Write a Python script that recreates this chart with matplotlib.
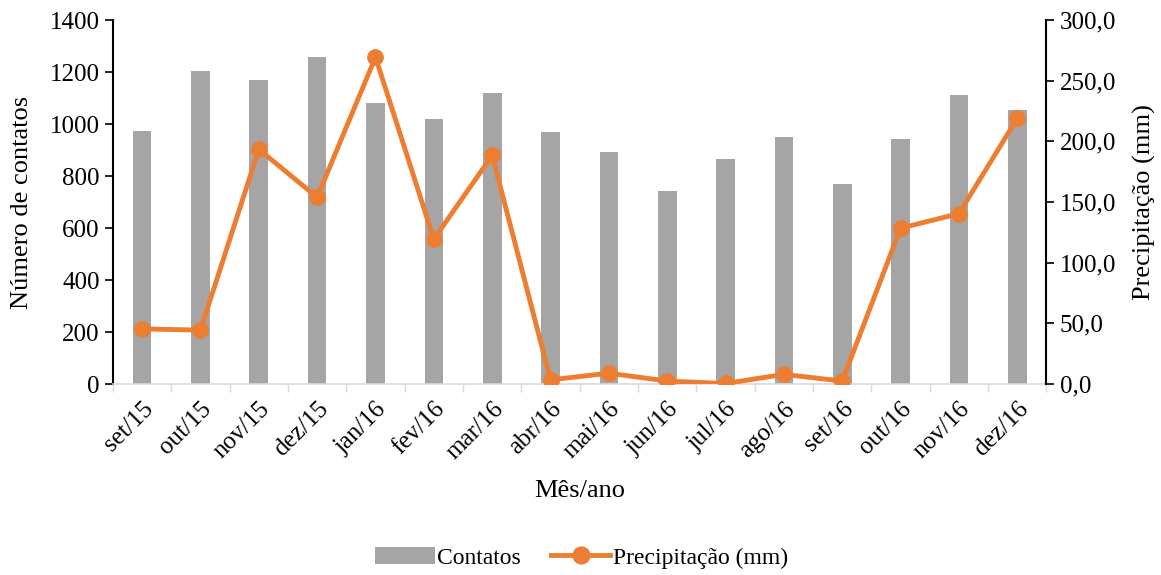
import matplotlib.pyplot as plt
import numpy as np

plt.rcParams['font.family'] = ['Liberation Serif', 'DejaVu Serif']

meses = ['set/15', 'out/15', 'nov/15', 'dez/15', 'jan/16', 'fev/16', 'mar/16', 'abr/16',
         'mai/16', 'jun/16', 'jul/16', 'ago/16', 'set/16', 'out/16', 'nov/16', 'dez/16']
contatos = [972, 1205, 1169, 1258, 1081, 1019, 1119, 969,
            892, 742, 867, 950, 770, 942, 1113, 1054]
precip = [45.5, 44.5, 193.5, 154.0, 269.5, 119.5, 188.5, 3.5,
          9.0, 2.5, 0.5, 8.0, 2.5, 128.5, 140.5, 219.0]

fig = plt.figure(figsize=(11.61, 5.75), dpi=100)
ax = fig.add_axes([0.0973, 0.332, 0.804, 0.633])
x = np.arange(len(meses))

ax.bar(x, contatos, width=0.32, color='#A5A5A5', label='Contatos', zorder=2)
ax.set_ylim(0, 1400)
ax.set_xlim(-0.5, len(meses) - 0.5)
ax.set_yticks(np.arange(0, 1401, 200))
ax.set_ylabel('Número de contatos', fontsize=19, labelpad=12)
ax.set_xlabel('Mês/ano', fontsize=19, labelpad=12)

ax.set_xticks(x)
ax.set_xticklabels(meses, rotation=45, ha='right', rotation_mode='anchor', fontsize=18)
ax.tick_params(axis='x', length=0, pad=10)
ax.set_xticks(np.arange(-0.5, len(meses)), minor=True)
ax.tick_params(axis='x', which='minor', length=6, color='#D9D9D9', width=1)
ax.tick_params(axis='y', labelsize=18, length=6, width=1.2)

ax.spines['top'].set_visible(False)
ax.spines['right'].set_visible(False)
ax.spines['bottom'].set_color('#D9D9D9')
ax.spines['bottom'].set_linewidth(1.2)
ax.spines['left'].set_linewidth(1.5)

ax2 = ax.twinx()
ax2.plot(x, precip, color='#ED7D31', linewidth=3.5, marker='o', markersize=11,
         label='Precipitação (mm)', zorder=3)
ax2.set_ylim(0, 300)
ax2.set_yticks(np.arange(0, 301, 50))
ax2.set_yticklabels([f'{v:.1f}'.replace('.', ',') for v in np.arange(0, 301, 50)])
ax2.tick_params(axis='y', labelsize=18, length=6, width=1.2)
ax2.set_ylabel('Precipitação (mm)', fontsize=19, labelpad=12)
for s in ['top', 'left', 'bottom']:
    ax2.spines[s].set_visible(False)
ax2.spines['right'].set_linewidth(1.5)

h1, l1 = ax.get_legend_handles_labels()
h2, l2 = ax2.get_legend_handles_labels()
fig.legend(h1 + h2, l1 + l2, loc='center', bbox_to_anchor=(0.501, 0.03), ncol=2,
           frameon=False, fontsize=17, handlelength=2.5, columnspacing=1.3,
           handletextpad=0.1, markerscale=1.1)

fig.savefig('out.png', dpi=100)
